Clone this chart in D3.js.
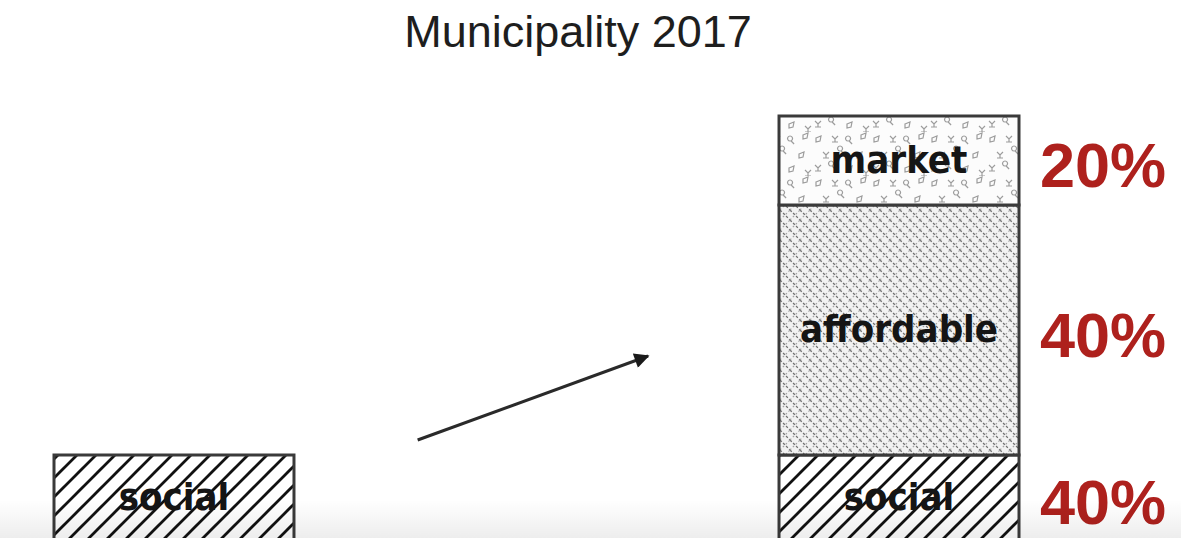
<!DOCTYPE html>
<html>
<head>
<meta charset="utf-8">
<script src="https://cdn.jsdelivr.net/npm/d3@7"></script>
<style>
  html, body { margin: 0; padding: 0; background: #fff; }
  svg { display: block; }
</style>
</head>
<body>
<div id="container"></div>
<script>
// bars: before -> 2017
var bars = ["before", "2017"];
// stacked segments, bottom to top
var segments = ["social", "affordable", "market"];
var sharesBefore = [40, 0, 0];
var shares2017 = [40, 40, 20];
var title = "Municipality 2017";

var w = 1181, h = 538;

var svg = d3.select("#container")
  .append("svg")
  .attr("width", w)
  .attr("height", h)
  .attr("viewBox", "0 0 " + w + " " + h);

var defs = svg.append("defs");

// diagonal hatch for social
var pSocial = defs.append("pattern")
  .attr("id", "social")
  .attr("patternUnits", "userSpaceOnUse")
  .attr("width", 19).attr("height", 19);
pSocial.append("rect").attr("width", 19).attr("height", 19).attr("fill", "#fff");
pSocial.append("path")
  .attr("d", "M-5,5 L5,-5 M0,19 L19,0 M14,24 L24,14")
  .attr("stroke", "#111")
  .attr("stroke-width", 2.8);

// cross hatch for affordable
var pAff = defs.append("pattern")
  .attr("id", "affordable")
  .attr("patternUnits", "userSpaceOnUse")
  .attr("width", 10).attr("height", 10);
pAff.append("rect").attr("width", 10).attr("height", 10).attr("fill", "#f2f2f2");
pAff.append("path")
  .attr("d", "M0,0 L10,10 M-1,9 L1,11 M9,-1 L11,1")
  .attr("stroke", "#707070")
  .attr("stroke-width", 1.3)
  .attr("stroke-dasharray", "2.5,1.8");
pAff.append("path")
  .attr("d", "M0,10 L10,0 M-1,1 L1,-1 M9,11 L11,9")
  .attr("stroke", "#a0a0a0")
  .attr("stroke-width", 1.1)
  .attr("stroke-dasharray", "1.8,2.2");

// speckle for market
var pMk = defs.append("pattern")
  .attr("id", "market")
  .attr("patternUnits", "userSpaceOnUse")
  .attr("width", 58).attr("height", 44);
pMk.append("rect").attr("width", 58).attr("height", 44).attr("fill", "#fcfcfc");
var specks = [[4,6],[20,4],[36,9],[49,3],[11,20],[28,19],[45,22],[3,33],[19,34],[35,36],[51,38]];
pMk.selectAll("path.sp").data(specks).enter().append("path")
  .attr("class", "sp")
  .attr("d", function(d, i) {
    var x = d[0], y = d[1];
    return i % 3 === 0
      ? "M" + x + "," + y + " l5,-2 l-1,5 l-4,1 z"
      : i % 3 === 1
        ? "M" + x + "," + y + " l3,3 l3,-3 m-3,3 l0,3 m-3,0 l6,0"
        : "M" + x + "," + y + " a2.5,2.5 0 1,1 0.1,0 m1,0 l3,3";
  })
  .attr("fill", "none")
  .attr("stroke", "#9c9c9c")
  .attr("stroke-width", 1.2);

// arrow marker
defs.append("marker")
  .attr("id", "arrowhead")
  .attr("viewBox", "0 0 10 10")
  .attr("refX", 9).attr("refY", 5)
  .attr("markerUnits", "userSpaceOnUse")
  .attr("markerWidth", 20).attr("markerHeight", 15)
  .attr("orient", "auto")
  .append("path")
  .attr("d", "M0,0 L10,5 L0,10 z")
  .attr("fill", "#1a1a1a");

// bottom haze
var grad = defs.append("linearGradient")
  .attr("id", "haze").attr("x1", 0).attr("y1", 0).attr("x2", 0).attr("y2", 1);
grad.append("stop").attr("offset", "0%").attr("stop-color", "#000").attr("stop-opacity", 0);
grad.append("stop").attr("offset", "100%").attr("stop-color", "#000").attr("stop-opacity", 0.07);

var x = d3.scaleBand()
  .domain(bars)
  .range([54, 1019])
  .paddingInner(0.669)
  .paddingOuter(0);

// segment heights in the drawing are not proportional
var y = d3.scaleLinear()
  .domain([0, 40, 80, 100])
  .range([540, 455, 205, 116]);

function stackOf(shares) {
  var acc = 0;
  return segments.map(function(s, i) {
    var d = { key: s, value: shares[i], y0: acc, y1: acc + shares[i] };
    acc += shares[i];
    return d;
  }).filter(function(d) { return d.value > 0; });
}

var data = [
  { bar: "before", segs: stackOf(sharesBefore), pct: false },
  { bar: "2017", segs: stackOf(shares2017), pct: true }
];

svg.append("text")
  .attr("x", 578)
  .attr("y", 47)
  .attr("text-anchor", "middle")
  .attr("font-family", "'Liberation Sans', Arial, sans-serif")
  .attr("font-size", 45)
  .attr("fill", "#1e1e1e")
  .text(title);

var g = svg.selectAll("g.bar")
  .data(data)
  .enter()
  .append("g")
  .attr("class", "bar");

g.selectAll("rect")
  .data(function(d) { return d.segs.map(function(s) { s.bar = d.bar; return s; }); })
  .enter()
  .append("rect")
  .attr("x", function(d) { return x(d.bar); })
  .attr("y", function(d) { return y(d.y1); })
  .attr("width", x.bandwidth())
  .attr("height", function(d) { return y(d.y0) - y(d.y1); })
  .attr("fill", function(d) { return "url(#" + d.key + ")"; })
  .attr("stroke", "#3a3a3a")
  .attr("stroke-width", 3);

g.selectAll("text.seg")
  .data(function(d) { return d.segs; })
  .enter()
  .append("text")
  .attr("class", "seg")
  .attr("x", function(d) { return x(d.bar) + x.bandwidth() / 2; })
  .attr("y", function(d) { return (y(d.y0) + y(d.y1)) / 2; })
  .attr("dy", "0.32em")
  .attr("text-anchor", "middle")
  .attr("font-family", "'DejaVu Sans Condensed', 'DejaVu Sans', sans-serif")
  .attr("font-weight", "bold")
  .attr("font-size", 38)
  .attr("fill", "#151515")
  .text(function(d) { return d.key; });

g.filter(function(d) { return d.pct; })
  .selectAll("text.pct")
  .data(function(d) { return d.segs; })
  .enter()
  .append("text")
  .attr("class", "pct")
  .attr("x", function(d) { return x(d.bar) + x.bandwidth() + 21; })
  .attr("y", function(d) { return (y(d.y0) + y(d.y1)) / 2 + 4; })
  .attr("dy", "0.36em")
  .attr("font-family", "'Liberation Sans', Arial, sans-serif")
  .attr("font-weight", "bold")
  .attr("font-size", 63)
  .attr("fill", "#ae211d")
  .text(function(d) { return d.value + "%"; });

// arrow between the bars
var gapL = x("before") + x.bandwidth(), gapR = x("2017");
var gap = gapR - gapL;
svg.append("line")
  .attr("x1", gapL + gap * 0.255)
  .attr("y1", y(40) - 15)
  .attr("x2", gapL + gap * 0.73)
  .attr("y2", y(40) - 99)
  .attr("stroke", "#2a2a2a")
  .attr("stroke-width", 3)
  .attr("marker-end", "url(#arrowhead)");

svg.append("rect")
  .attr("x", 0).attr("y", 500)
  .attr("width", w).attr("height", h - 500)
  .attr("fill", "url(#haze)")
  .attr("pointer-events", "none");
</script>
</body>
</html>
